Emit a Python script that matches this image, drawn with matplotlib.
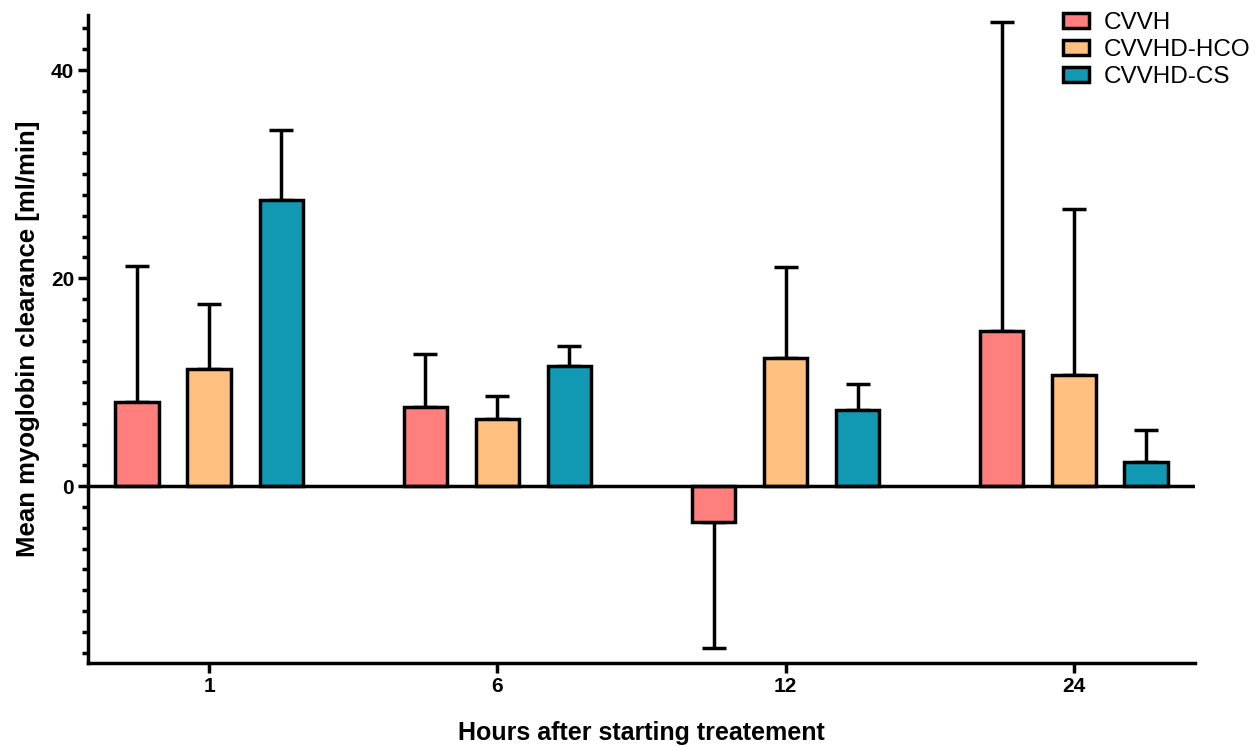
import matplotlib.pyplot as plt
import numpy as np

plt.rcParams['font.family'] = ['Liberation Sans', 'DejaVu Sans']

# Time points (hours) and the three treatment groups
hours = ['1', '6', '12', '24']
groups = ['CVVH', 'CVVHD-HCO', 'CVVHD-CS']
colors = ['#FF7F7F', '#FFC080', '#1199B4']

# Mean myoglobin clearance [ml/min]
cvvh = [8.1, 7.6, -3.4, 14.9]
cvvhd_hco = [11.3, 6.5, 12.3, 10.7]
cvvhd_cs = [27.5, 11.6, 7.3, 2.3]

# Standard deviations (drawn one-sided, away from zero)
cvvh_sd = [13.1, 5.1, 12.2, 29.7]
cvvhd_hco_sd = [6.2, 2.2, 8.8, 15.9]
cvvhd_cs_sd = [6.7, 1.9, 2.5, 3.1]

means = [cvvh, cvvhd_hco, cvvhd_cs]
sds = [cvvh_sd, cvvhd_hco_sd, cvvhd_cs_sd]

fig = plt.figure(figsize=(12.57, 7.47), dpi=100)
ax = fig.add_axes([0.070, 0.1124, 0.8807, 0.8676])

x = np.arange(len(hours))
bar_width = 0.15
offsets = [-0.25, 0, 0.25]
lw = 2.5

for m, s, c, off, name in zip(means, sds, colors, offsets, groups):
    m = np.array(m)
    s = np.array(s)
    ax.bar(x + off, m, width=bar_width, color=c, edgecolor='black',
           linewidth=lw, label=name, zorder=3)
    lower = np.where(m < 0, s, 0)
    upper = np.where(m >= 0, s, 0)
    ax.errorbar(x + off, m, yerr=[lower, upper], fmt='none', ecolor='black',
                elinewidth=lw, capsize=8.5, capthick=lw, zorder=2)

ax.axhline(0, color='black', linewidth=lw, zorder=4)

ax.set_xlim(-0.42, 3.42)
ax.set_ylim(-17, 45.3)
ax.set_xticks(x)
ax.set_xticklabels(hours)
ax.set_yticks([0, 20, 40])
ax.set_yticks(np.arange(-16, 45, 2), minor=True)

for side in ['top', 'right']:
    ax.spines[side].set_visible(False)
for side in ['left', 'bottom']:
    ax.spines[side].set_linewidth(lw)

ax.tick_params(axis='both', which='major', width=lw, length=7, labelsize=15, pad=3)
ax.tick_params(axis='y', which='minor', width=lw, length=4.5)
ax.tick_params(axis='x', which='minor', bottom=False)
for lab in ax.get_xticklabels() + ax.get_yticklabels():
    lab.set_fontweight('bold')

ax.set_xlabel('Hours after starting treatement', fontsize=18, fontweight='bold', labelpad=18)
ax.set_ylabel('Mean myoglobin clearance [ml/min]', fontsize=18.5, fontweight='bold', labelpad=8)

leg = fig.legend(loc='upper left', bbox_to_anchor=(0.828, 1.013), frameon=False,
                 fontsize=17.5, handlelength=1.1, handleheight=0.6, labelspacing=0.2,
                 handletextpad=0.6)
for p in leg.get_patches():
    p.set_linewidth(lw)

plt.savefig('out.png', dpi=100)
